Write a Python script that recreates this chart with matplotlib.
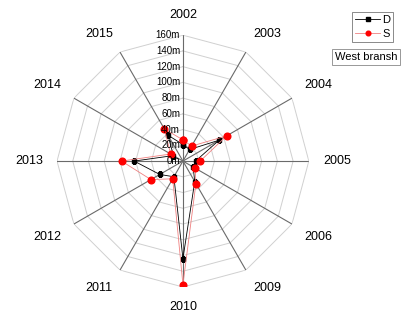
import numpy as np
import matplotlib
matplotlib.use("Agg")
import matplotlib.pyplot as plt

plt.rcParams['font.family'] = ['Liberation Sans', 'DejaVu Sans']

years = ["2002", "2003", "2004", "2005", "2006", "2009",
         "2010", "2011", "2012", "2013", "2014", "2015"]
d_vals = [21, 17, 53, 16, 15, 30, 124, 23, 34, 62, 14, 38]
s_vals = [27, 22, 64, 22, 18, 33, 157, 26, 47, 78, 18, 47]
r_ticks = [0, 20, 40, 60, 80, 100, 120, 140, 160]
r_labels = ["%dm" % v for v in r_ticks]
rmax = 160


def closed(a):
    return list(a) + [a[0]]


def main():
    fig = plt.figure(figsize=(4.12, 3.14), dpi=100)
    ax = fig.add_axes([0.138, 0.086, 0.612, 0.802], projection="polar")
    ax.set_theta_zero_location("N")
    ax.set_theta_direction(-1)
    ax.set_ylim(0, rmax)
    ax.grid(False)
    ax.set_xticks([])
    ax.set_yticks([])
    ax.spines["polar"].set_visible(False)
    ax.patch.set_alpha(0)

    n = len(years)
    theta = np.arange(n) * 2 * np.pi / n

    # polygon rings
    for r in r_ticks[1:]:
        ax.plot(closed(theta), [r] * (n + 1), color="#d0d0d0", lw=0.7, zorder=1)
    # spokes
    for t in theta:
        ax.plot([t, t], [0, rmax], color="#6a6a6a", lw=0.8, zorder=2)

    ax.plot(closed(theta), closed(d_vals), color="black", lw=0.6,
            marker="s", ms=3.5, mfc="black", mec="black", label="D", zorder=4)
    ax.plot(closed(theta), closed(s_vals), color="#f08080", lw=0.6,
            marker="o", ms=4.8, mfc="red", mec="red", label="S", zorder=5)

    # radial tick labels
    for r, lab in zip(r_ticks, r_labels):
        ax.annotate(lab, xy=(0, r), xytext=(-2, 0), textcoords="offset points",
                    ha="right", va="center", fontsize=7, zorder=6)

    # category labels
    for t, lab in zip(theta, years):
        s, c = np.sin(t), np.cos(t)
        ha = "left" if s > 0.1 else ("right" if s < -0.1 else "center")
        va = "bottom" if c > 0.1 else ("top" if c < -0.1 else "center")
        ax.text(t, 178, lab, ha=ha, va=va, fontsize=9)

    leg = fig.legend(loc="upper left", bbox_to_anchor=(352 / 412, 1 - 12 / 314),
                     fontsize=8, frameon=True, fancybox=False, edgecolor="#555555",
                     handlelength=2.2, handletextpad=0.2, borderpad=0.3,
                     labelspacing=0.3, borderaxespad=0, markerscale=0.7)
    leg.get_frame().set_linewidth(0.6)

    fig.text(335 / 412, 1 - 57 / 314, "West bransh", fontsize=8, ha="left", va="center",
             bbox=dict(boxstyle="square,pad=0.25", fc="white", ec="#888888", lw=0.6))

    fig.savefig("out.png", dpi=100)


if __name__ == '__main__':
    main()
